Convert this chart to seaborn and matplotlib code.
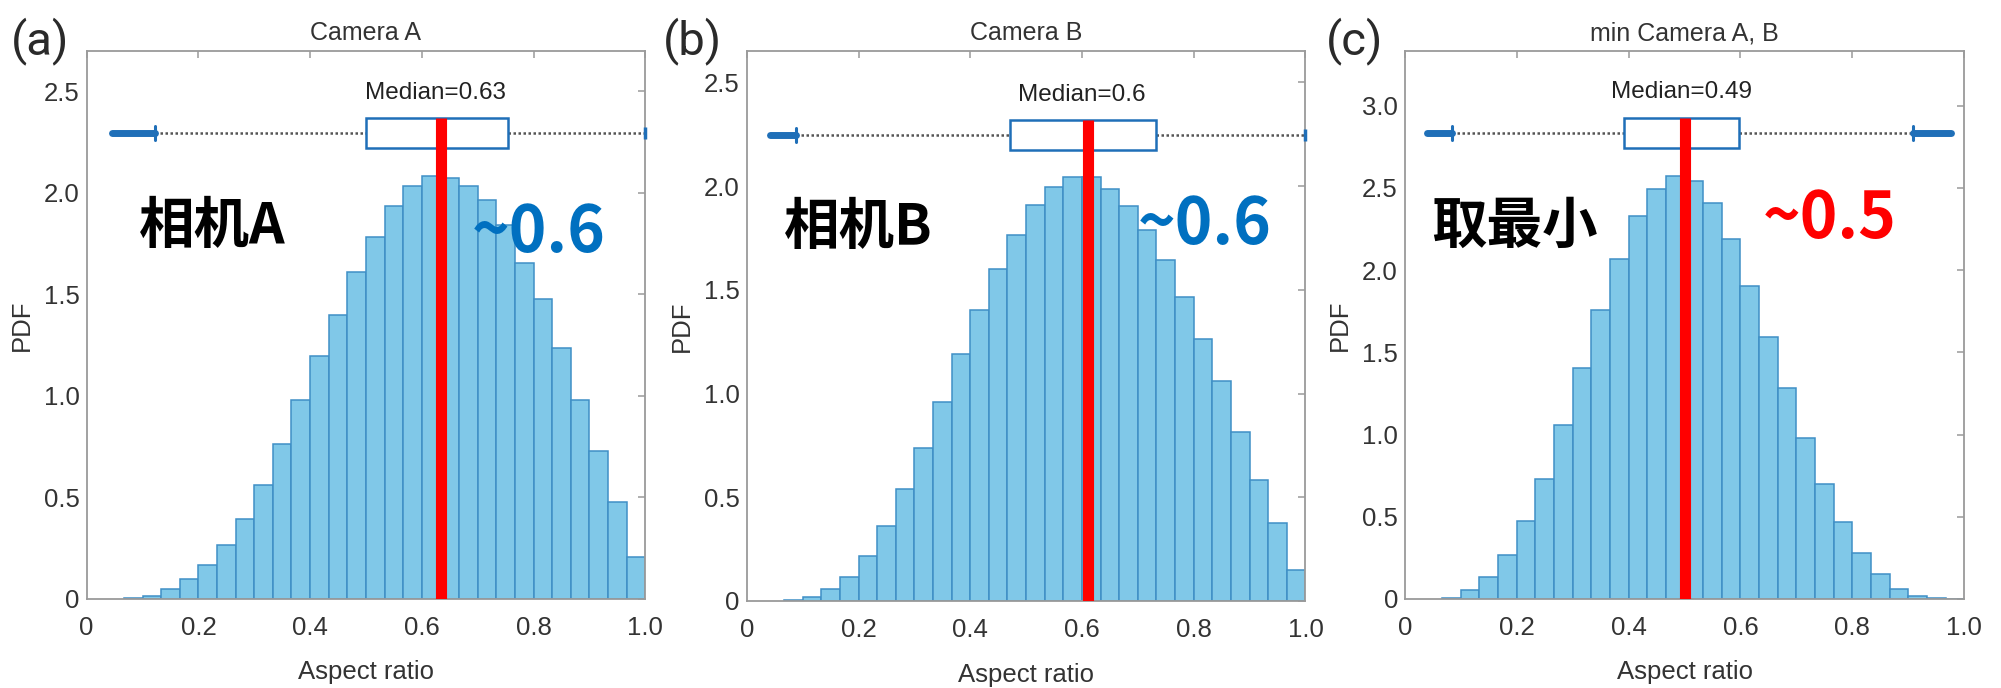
import numpy as np
import pandas as pd
import seaborn as sns
import matplotlib
matplotlib.use("Agg")
import matplotlib.pyplot as plt
from matplotlib.patches import Rectangle

# ---------------- data ----------------
panel_letters = ["(a)", "(b)", "(c)"]
titles = ["Camera A", "Camera B", "min Camera A, B"]
cn_labels = ["相机A", "相机B", "取最小"]
approx_labels = ["~0.6", "~0.6", "~0.5"]
median_texts = ["Median=0.63", "Median=0.6", "Median=0.49"]

bin_edges = np.arange(2, 31) / 30.0   # 28 bins of width 1/30 from 0.067 to 1.0

pdf_a = [0.005, 0.015, 0.05, 0.097, 0.165, 0.264, 0.396, 0.563, 0.764, 0.98,
         1.197, 1.40, 1.608, 1.78, 1.937, 2.035, 2.082, 2.074, 2.035, 1.963,
         1.84, 1.656, 1.478, 1.234, 0.98, 0.729, 0.476, 0.206]
pdf_b = [0.004, 0.017, 0.057, 0.114, 0.218, 0.36, 0.539, 0.736, 0.958, 1.189,
         1.402, 1.601, 1.762, 1.908, 1.994, 2.043, 2.043, 1.984, 1.904, 1.787,
         1.645, 1.464, 1.265, 1.062, 0.814, 0.582, 0.374, 0.148]
pdf_c = [0.005, 0.053, 0.134, 0.267, 0.473, 0.73, 1.056, 1.404, 1.759, 2.067,
         2.326, 2.495, 2.572, 2.54, 2.406, 2.187, 1.906, 1.591, 1.283, 0.976,
         0.70, 0.468, 0.281, 0.152, 0.061, 0.019, 0.003, 0.0]

# box plot summaries
box_q1 = [0.500, 0.472, 0.392]
box_q3 = [0.754, 0.732, 0.598]
whisk_lo = [0.122, 0.088, 0.085]
whisk_hi = [1.0, 1.0, 0.908]
outlier_lo = [(0.045, 0.122), (0.042, 0.088), (0.040, 0.085)]
outlier_hi = [None, None, (0.908, 0.976)]
box_y = [2.294, 2.246, 2.834]
red_line_x = [0.635, 0.61, 0.50]

ylims = [2.7, 2.65, 3.33]
yticks = [[0, 0.5, 1.0, 1.5, 2.0, 2.5],
          [0, 0.5, 1.0, 1.5, 2.0, 2.5],
          [0, 0.5, 1.0, 1.5, 2.0, 2.5, 3.0]]
ytick_labels = [["0", "0.5", "1.0", "1.5", "2.0", "2.5"],
                ["0", "0.5", "1.0", "1.5", "2.0", "2.5"],
                ["0", "0.5", "1.0", "1.5", "2.0", "2.5", "3.0"]]
xticks = [0, 0.2, 0.4, 0.6, 0.8, 1.0]
xtick_labels = ["0", "0.2", "0.4", "0.6", "0.8", "1.0"]

# text placements (data coords)
median_text_pos = [(0.625, 2.49), (0.60, 2.44), (0.495, 3.08)]
cn_pos = [(0.093, 1.83), (0.067, 1.80), (0.046, 2.26)]
approx_pos = [(0.69, 1.80), (0.70, 1.81), (0.64, 2.31)]
approx_colors = ["#0070C0", "#0070C0", "#FF0000"]

# ---------------- style ----------------
sns.set_theme(style="white")
plt.rcParams["font.family"] = ["Liberation Sans", "Noto Sans CJK SC", "DejaVu Sans"]

fig = plt.figure(figsize=(20.01, 6.88), dpi=100)
axes_rects = [
    [0.0433, 0.1294, 0.2792, 0.797],
    [0.3732, 0.1265, 0.2792, 0.799],
    [0.7021, 0.1294, 0.2795, 0.796],
]
letter_x = [0.020, 0.346, 0.677]

bar_face = "#80C8E8"
bar_edge = "#3F8FC6"
box_blue = "#1F6FB8"
frame_gray = "#9A9A9A"
text_gray = "#333333"

pdfs = [pdf_a, pdf_b, pdf_c]
centers = (bin_edges[:-1] + bin_edges[1:]) / 2

for i in range(3):
    ax = fig.add_axes(axes_rects[i])
    df = pd.DataFrame({"x": centers, "w": pdfs[i]})
    sns.histplot(data=df, x="x", weights="w", binwidth=1 / 30.0,
                 binrange=(float(bin_edges[0]), float(bin_edges[-1])), ax=ax,
                 color=bar_face, alpha=1.0, edgecolor=bar_edge, linewidth=1.1)

    ax.set_xlim(0, 1.0)
    ax.set_ylim(0, ylims[i])
    ax.set_xticks(xticks)
    ax.set_xticklabels(xtick_labels)
    ax.set_yticks(yticks[i])
    ax.set_yticklabels(ytick_labels[i])

    for sp in ax.spines.values():
        sp.set_visible(True)
        sp.set_color(frame_gray)
        sp.set_linewidth(1.3)
    ax.tick_params(axis="both", which="both", direction="in", length=5,
                   width=1.1, color=frame_gray, labelcolor=text_gray,
                   labelsize=18.5, top=True, right=True)
    ax.tick_params(axis="x", pad=12)
    ax.tick_params(axis="y", pad=5)

    ax.set_xlabel("Aspect ratio", fontsize=18.5, color=text_gray)
    ax.set_ylabel("PDF", fontsize=18.5, color=text_gray)
    ax.xaxis.set_label_coords(0.5, -0.112)
    ax.yaxis.set_label_coords(-0.094, 0.5)
    ax.set_title(titles[i], fontsize=18, color=text_gray, pad=8)

    # box plot
    h = ylims[i] * 0.055
    y0 = box_y[i]
    ax.plot([whisk_lo[i], box_q1[i]], [y0, y0], color="#555555", lw=1.8,
            linestyle=(0, (1, 1)), zorder=3)
    ax.plot([box_q3[i], whisk_hi[i]], [y0, y0], color="#555555", lw=1.8,
            linestyle=(0, (1, 1)), zorder=3)
    ax.add_patch(Rectangle((box_q1[i], y0 - h / 2), box_q3[i] - box_q1[i], h,
                           facecolor="white", edgecolor=box_blue, lw=1.8,
                           zorder=4))
    for rng in (outlier_lo[i], outlier_hi[i]):
        if rng is None:
            continue
        ax.plot([rng[0], rng[1]], [y0, y0], color=box_blue, lw=5,
                solid_capstyle="round", zorder=4)
        cap_x = rng[1] if rng is outlier_lo[i] else rng[0]
        ax.plot([cap_x, cap_x], [y0 - h * 0.22, y0 + h * 0.22], color=box_blue,
                lw=2.2, zorder=4)
    if outlier_hi[i] is None:
        ax.plot([whisk_hi[i]], [y0], marker="|", color=box_blue, ms=8, mew=2.5,
                zorder=4, clip_on=False)

    # red median line
    ax.vlines(red_line_x[i], 0, y0 + h / 2, color="#FF0000", lw=8, zorder=6)

    ax.text(median_text_pos[i][0], median_text_pos[i][1], median_texts[i],
            ha="center", va="center", fontsize=17.5, color="#222222")
    ax.text(cn_pos[i][0], cn_pos[i][1], cn_labels[i], ha="left", va="center",
            fontsize=40, fontweight="bold", color="black",
            family=["Noto Sans CJK SC", "DejaVu Sans"], zorder=7)
    ax.text(approx_pos[i][0], approx_pos[i][1], approx_labels[i], ha="left",
            va="center", fontsize=46, fontweight="bold", color=approx_colors[i],
            family=["Noto Sans CJK SC", "DejaVu Sans"], zorder=7)

    fig.text(letter_x[i], 0.94, panel_letters[i], ha="center", va="center",
             fontsize=34, fontweight="normal", color="#2a2a2a",
             family=["Roboto", "Liberation Sans", "DejaVu Sans"])

fig.savefig("out.png", dpi=100)
